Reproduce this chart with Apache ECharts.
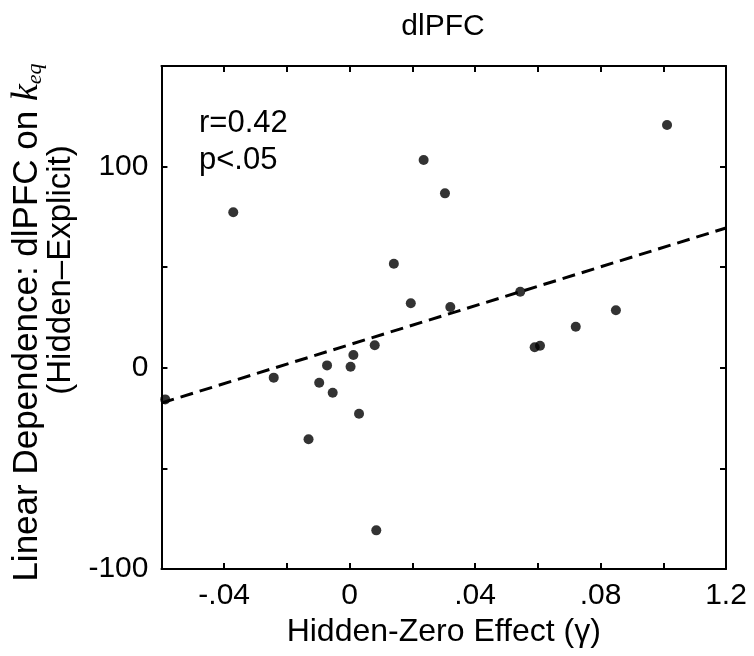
<!DOCTYPE html>
<html>
<head>
<meta charset="utf-8">
<script src="https://cdn.jsdelivr.net/npm/echarts@6/dist/echarts.min.js"></script>
<style>html,body{margin:0;padding:0;background:#fff}#c{width:754px;height:656px}</style>
</head>
<body>
<div id="c"></div>
<script>
// Hidden-Zero Effect (gamma) for each subject
const gammaX = [-0.0588, -0.0371, -0.0242, -0.0131, -0.0097, -0.0072, -0.0054, 0.0003, 0.0012, 0.0030, 0.0080, 0.0085,
  0.0141, 0.0195, 0.0236, 0.0304, 0.0321, 0.0544, 0.0590, 0.0607, 0.0721, 0.0849, 0.1012];
// Linear dependence of dlPFC on k_eq (Hidden - Explicit)
const keqY = [-15.7, 77.3, -4.9, -35.5, -7.4, 1.2, -12.4, 0.5, 6.4, -22.8, 11.2, -80.8,
  51.7, 32.1, 103.3, 86.7, 30.2, 37.8, 10.2, 11.0, 20.4, 28.6, 120.7];
// Regression line end points
const fitX = [-0.06, 0.12];
const fitY = [-17.5, 69.5];
// Tick labels
const xTickValues = [-0.04, 0, 0.04, 0.08, 0.12];
const xTickLabels = ['-.04', '0', '.04', '.08', '1.2'];
const yTickValues = [-100, 0, 100];
const yTickLabels = ['-100', '0', '100'];

const FONT = 'Liberation Sans';
function lookup(vals, labs, v) {
  for (let i = 0; i < vals.length; i++) if (Math.abs(vals[i] - v) < 1e-6) return labs[i];
  return '';
}
const chart = echarts.init(document.getElementById('c'), null, {renderer: 'canvas'});
const axisLine = {show: true, onZero: false, lineStyle: {color: '#000', width: 2}};
const axisTick = {show: true, inside: true, length: 6, lineStyle: {color: '#000', width: 2}};
chart.setOption({
  animation: false,
  backgroundColor: '#fff',
  title: {text: 'dlPFC', left: 438, top: 7, textAlign: 'center',
    textStyle: {fontFamily: FONT, fontSize: 30, fontWeight: 'normal', color: '#000'}},
  grid: {left: 159, right: 28, top: 66, bottom: 87, containLabel: false},
  xAxis: [{
    type: 'value', min: -0.06, max: 0.12, interval: 0.02, position: 'bottom',
    axisLine, axisTick, splitLine: {show: false},
    axisLabel: {show: true, margin: 12, showMinLabel: true, showMaxLabel: true,
      fontFamily: FONT, fontSize: 30, color: '#000',
      formatter: v => lookup(xTickValues, xTickLabels, v)},
    name: 'Hidden-Zero Effect (\u03b3)', nameLocation: 'middle', nameGap: 46,
    nameTextStyle: {fontFamily: FONT, fontSize: 32, color: '#000'}
  }, {
    type: 'value', min: -0.06, max: 0.12, interval: 0.02, position: 'top',
    axisLine, axisTick, axisLabel: {show: false}, splitLine: {show: false}
  }],
  yAxis: [{
    type: 'value', min: -100, max: 150, interval: 50, position: 'left',
    axisLine, axisTick, splitLine: {show: false},
    axisLabel: {show: true, margin: 13, fontFamily: FONT, fontSize: 30, color: '#000',
      formatter: v => lookup(yTickValues, yTickLabels, v)},
    name: '{a|Linear Dependence: dlPFC on }{k|k}{s|eq}\n{b|(Hidden\u2013Explicit)}',
    nameLocation: 'middle', nameRotate: 90, nameGap: 74,
    nameTextStyle: {
      align: 'center',
      rich: {
        a: {fontFamily: FONT, fontSize: 35, color: '#000', lineHeight: 34},
        b: {fontFamily: FONT, fontSize: 33, color: '#000', lineHeight: 34, padding: [0, 0, 0, 95]},
        k: {fontFamily: 'Liberation Serif', fontStyle: 'italic', fontSize: 38, color: '#000', lineHeight: 34},
        s: {fontFamily: 'Liberation Serif', fontStyle: 'italic', fontSize: 22, color: '#000', lineHeight: 18, padding: [16, 10, 0, 0]}
      }
    }
  }, {
    type: 'value', min: -100, max: 150, interval: 50, position: 'right',
    axisLine, axisTick, axisLabel: {show: false}, splitLine: {show: false}
  }],
  graphic: [
    {type: 'text', left: 199, top: 108, style: {text: 'r=0.42', fontFamily: FONT, fontSize: 31, fill: '#000'}},
    {type: 'text', left: 199, top: 145, style: {text: 'p<.05', fontFamily: FONT, fontSize: 31, fill: '#000'}}
  ],
  series: [{
    type: 'line', xAxisIndex: 0, yAxisIndex: 0,
    data: fitX.map((x, i) => [x, fitY[i]]),
    symbol: 'none', silent: true,
    lineStyle: {color: '#000', width: 3, type: [13, 7]}
  }, {
    type: 'scatter', xAxisIndex: 0, yAxisIndex: 0,
    data: gammaX.map((x, i) => [x, keqY[i]]),
    symbol: 'circle', symbolSize: 10,
    itemStyle: {color: '#000'}
  }]
});
</script>
</body>
</html>
